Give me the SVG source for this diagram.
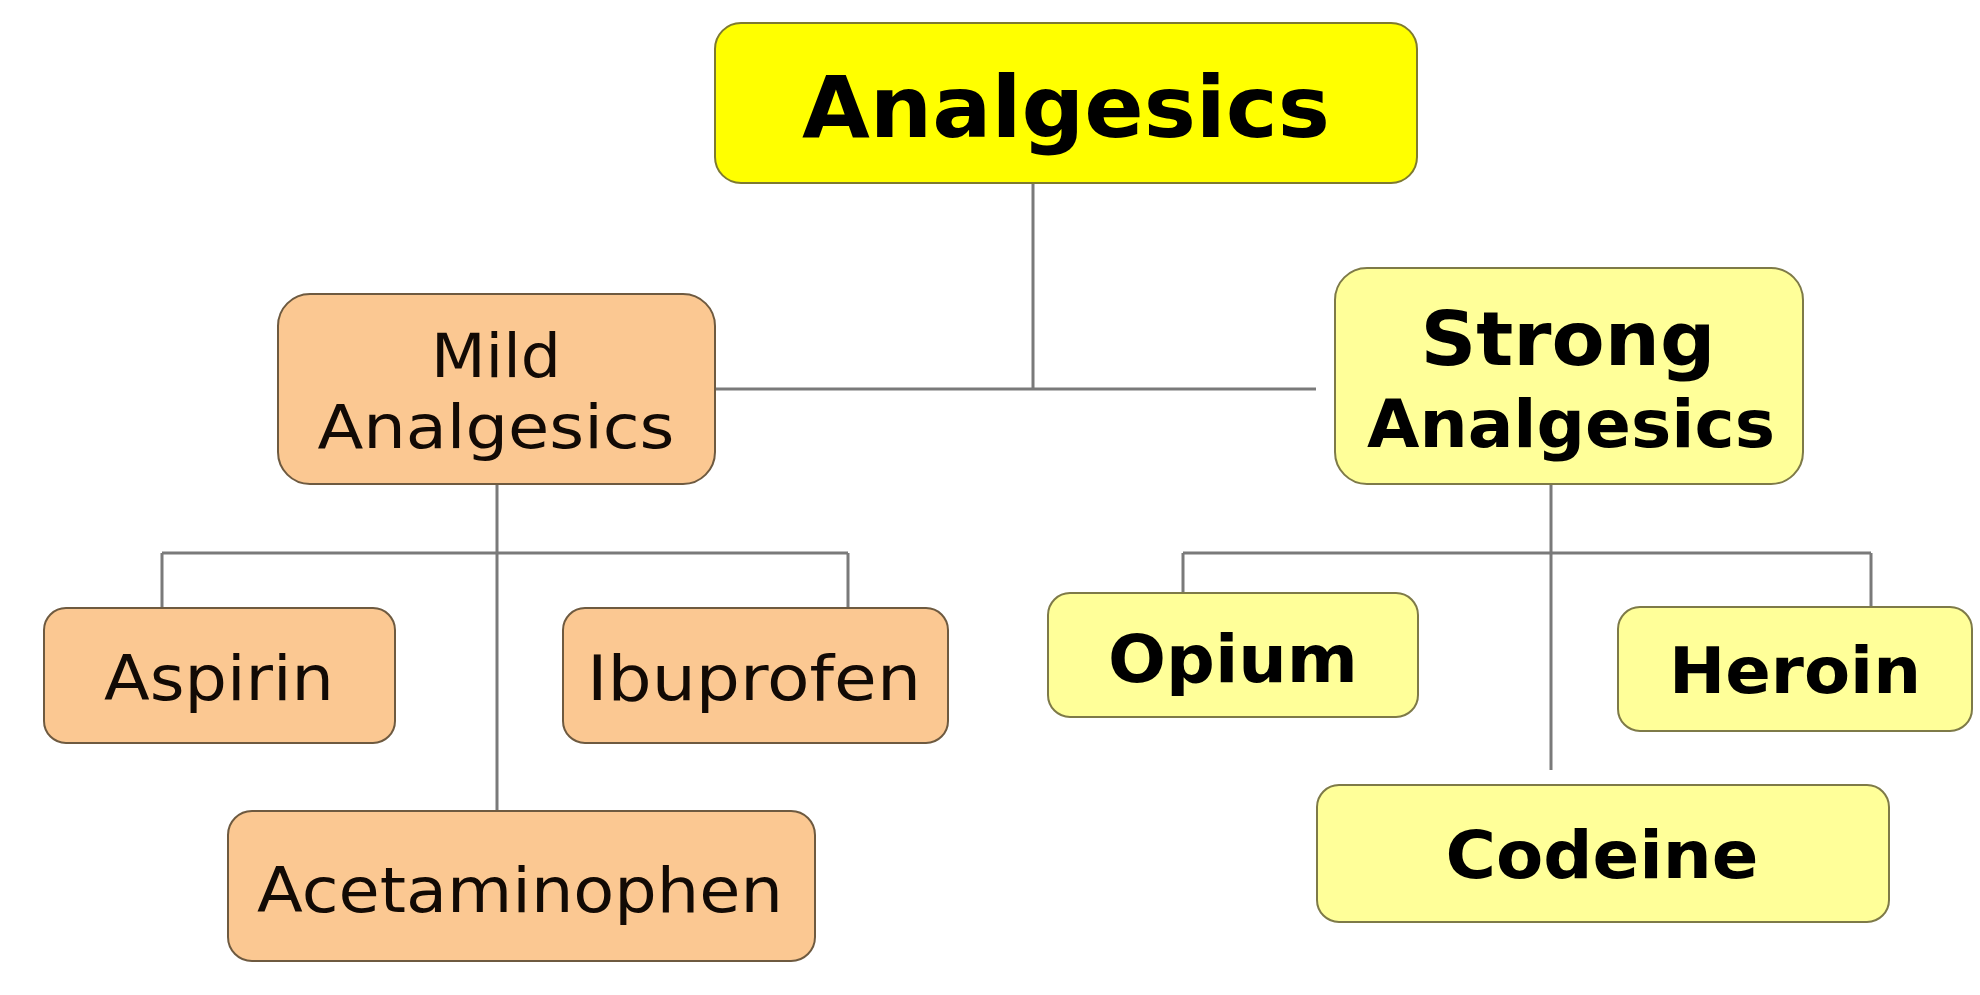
<svg xmlns="http://www.w3.org/2000/svg" width="1980" height="995" viewBox="0 0 1980 995">
<style>
.bg{fill:#ffffff}
.orange{fill:#FBC892;stroke:#6E5A40;stroke-width:2}
.yellow{fill:#FFFF99;stroke:#7E7A48;stroke-width:2}
.top{fill:#FFFF00;stroke:#7E7A30;stroke-width:2}
.conn{stroke:#7a7a7a;stroke-width:3;fill:none}
.reg{font-family:"DejaVu Sans","Verdana",sans-serif;fill:#120a05;text-anchor:middle}
.bold{font-family:"DejaVu Sans","Verdana",sans-serif;font-weight:bold;fill:#000;text-anchor:middle}
</style>
<rect class="bg" x="0" y="0" width="1980" height="995"/>
<g id="connectors">
<path class="conn" d="M1033,183 V389 M715,389 H1316"/>
<path class="conn" d="M497,484 V811 M162,553 H848 M162,553 V608 M848,553 V608"/>
<path class="conn" d="M1551,484 V770 M1183,553 H1871 M1183,553 V607 M1871,553 V607"/>
</g>
<g id="analgesics">
<rect class="top" x="715" y="23" width="702" height="160" rx="26"/>
<text class="bold" x="1066" y="137" font-size="86" textLength="528" lengthAdjust="spacingAndGlyphs">Analgesics</text>
</g>
<g id="mild">
<rect class="orange" x="278" y="294" width="437" height="190" rx="32"/>
<text class="reg" x="496" y="377" font-size="60" textLength="130" lengthAdjust="spacingAndGlyphs">Mild</text>
<text class="reg" x="496" y="448" font-size="60" textLength="357" lengthAdjust="spacingAndGlyphs">Analgesics</text>
</g>
<g id="strong">
<rect class="yellow" x="1335" y="268" width="468" height="216" rx="32"/>
<text class="bold" x="1568" y="365" font-size="75" textLength="295" lengthAdjust="spacingAndGlyphs">Strong</text>
<text class="bold" x="1571" y="447" font-size="66" textLength="408" lengthAdjust="spacingAndGlyphs">Analgesics</text>
</g>
<g id="aspirin">
<rect class="orange" x="44" y="608" width="351" height="135" rx="22"/>
<text class="reg" x="219" y="700" font-size="62" textLength="230" lengthAdjust="spacingAndGlyphs">Aspirin</text>
</g>
<g id="ibuprofen">
<rect class="orange" x="563" y="608" width="385" height="135" rx="22"/>
<text class="reg" x="754" y="700" font-size="62" textLength="334" lengthAdjust="spacingAndGlyphs">Ibuprofen</text>
</g>
<g id="acetaminophen">
<rect class="orange" x="228" y="811" width="587" height="150" rx="24"/>
<text class="reg" x="520" y="912" font-size="62" textLength="526" lengthAdjust="spacingAndGlyphs">Acetaminophen</text>
</g>
<g id="opium">
<rect class="yellow" x="1048" y="593" width="370" height="124" rx="22"/>
<text class="bold" x="1233" y="682" font-size="66" textLength="250" lengthAdjust="spacingAndGlyphs">Opium</text>
</g>
<g id="heroin">
<rect class="yellow" x="1618" y="607" width="354" height="124" rx="22"/>
<text class="bold" x="1795" y="693" font-size="64" textLength="252" lengthAdjust="spacingAndGlyphs">Heroin</text>
</g>
<g id="codeine">
<rect class="yellow" x="1317" y="785" width="572" height="137" rx="22"/>
<text class="bold" x="1602" y="878" font-size="66" textLength="313" lengthAdjust="spacingAndGlyphs">Codeine</text>
</g>
</svg>
